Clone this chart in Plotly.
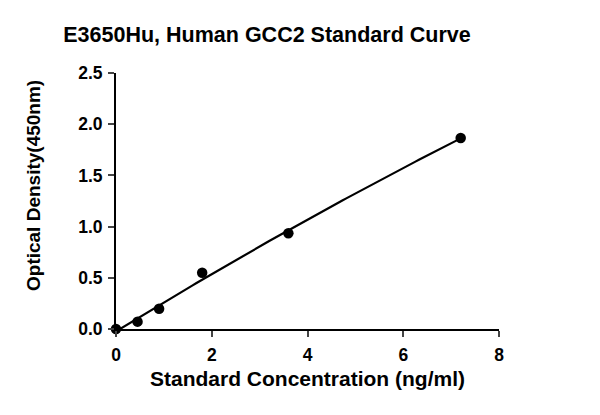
import numpy as np
import plotly.graph_objects as go

conc = [0, 0.45, 0.9, 1.8, 3.6, 7.2]
od = [0.0, 0.072, 0.198, 0.55, 0.935, 1.865]
x_ticks = [0, 2, 4, 6, 8]
y_ticks = [0.0, 0.5, 1.0, 1.5, 2.0, 2.5]
y_tick_text = ["0.0", "0.5", "1.0", "1.5", "2.0", "2.5"]

coef = np.polyfit(conc, od, 2)
xf = np.linspace(0, max(conc), 100)
yf = np.polyval(coef, xf)

FONT = "Liberation Sans, Arial, sans-serif"

fig = go.Figure()
fig.add_trace(go.Scatter(x=xf, y=yf, mode="lines", line=dict(color="black", width=2.2),
                         showlegend=False, hoverinfo="skip", cliponaxis=False))
fig.add_trace(go.Scatter(x=conc, y=od, mode="markers", marker=dict(color="black", size=10.5),
                         showlegend=False, cliponaxis=False))

fig.update_layout(
    width=600, height=415,
    margin=dict(l=116, r=101, t=73, b=86),
    paper_bgcolor="white", plot_bgcolor="white",
    font=dict(family=FONT, color="black"),
    title=dict(text="<b>E3650Hu, Human GCC2 Standard Curve</b>", x=267/600, xanchor="center",
               y=1 - 34/415, yanchor="middle", font=dict(size=21.5, family=FONT, color="black")),
    xaxis=dict(range=[0, 8], tickvals=x_ticks, ticktext=[f"<b>{t}</b>" for t in x_ticks],
               ticks="outside", ticklen=6, tickwidth=2, ticklabelstandoff=3,
               showline=True, linewidth=2, linecolor="black", showgrid=False, zeroline=False,
               tickfont=dict(size=17.5, family=FONT, color="black"),
               title=dict(text="<b>Standard Concentration (ng/ml)</b>", standoff=7,
                          font=dict(size=21, family=FONT, color="black"))),
    yaxis=dict(range=[0, 2.5], tickvals=y_ticks, ticktext=[f"<b>{t}</b>" for t in y_tick_text],
               ticks="outside", ticklen=6, tickwidth=2, ticklabelstandoff=2,
               showline=True, linewidth=2, linecolor="black", showgrid=False, zeroline=False,
               tickfont=dict(size=17.5, family=FONT, color="black")),
    annotations=[dict(text="<b>Optical Density(450nm)</b>", textangle=-90,
                      xref="paper", yref="paper", x=(33 - 116) / 383, y=(329 - 186) / 256,
                      xanchor="center", yanchor="middle", showarrow=False,
                      font=dict(size=19, family=FONT, color="black"))],
)

fig.write_html("out.html")
